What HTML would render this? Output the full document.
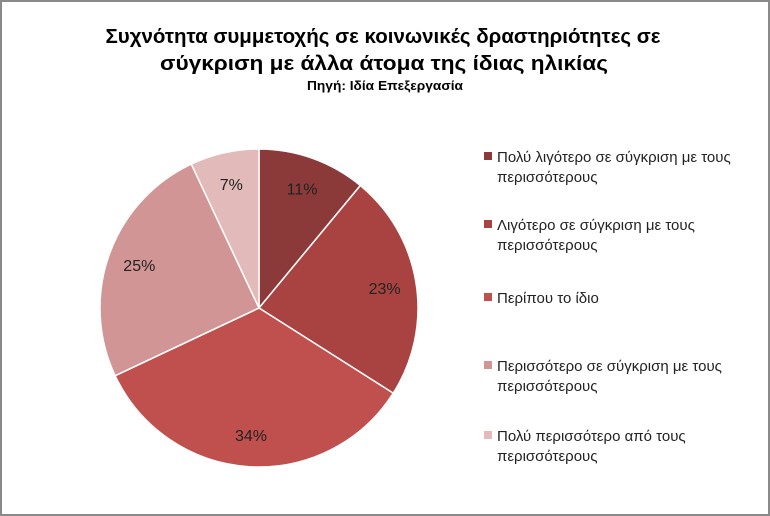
<!DOCTYPE html>
<html><head><meta charset="utf-8"><style>
html,body{margin:0;padding:0;background:#fff}
svg{display:block;font-family:"Liberation Sans Narrow","Liberation Sans",sans-serif}
</style></head><body>
<svg width="770" height="516" viewBox="0 0 770 516" id="c">
<rect x="1" y="1" width="768" height="514" fill="#fff" stroke="#8a8a8a" stroke-width="2"/>
<g font-weight="bold" text-anchor="middle" fill="#000">
<text x="383" y="43" font-size="20" textLength="555" lengthAdjust="spacingAndGlyphs">Συχνότητα συμμετοχής σε κοινωνικές δραστηριότητες σε</text>
<text x="384" y="70" font-size="20" textLength="448" lengthAdjust="spacingAndGlyphs">σύγκριση με άλλα άτομα της ίδιας ηλικίας</text>
<text x="385" y="90" font-size="13" textLength="156" lengthAdjust="spacingAndGlyphs">Πηγή: Ιδία Επεξεργασία</text>
</g>
<g id="pie"></g>
<g id="legend"></g>
</svg>
<script>
const categories=["Πολύ λιγότερο σε σύγκριση με τους περισσότερους","Λιγότερο σε σύγκριση με τους περισσότερους","Περίπου το ίδιο","Περισσότερο σε σύγκριση με τους περισσότερους","Πολύ περισσότερο από τους περισσότερους"];
const values=[11,23,34,25,7];
const valueLabels=["11%","23%","34%","25%","7%"];
const legendLines=[["Πολύ λιγότερο σε σύγκριση με τους","περισσότερους"],["Λιγότερο σε σύγκριση με τους","περισσότερους"],["Περίπου το ίδιο"],["Περισσότερο σε σύγκριση με τους","περισσότερους"],["Πολύ περισσότερο από τους","περισσότερους"]];
const colors=["#8c3a39","#a94341","#c0504d","#d09594","#e2baba"];
const NS="http://www.w3.org/2000/svg";
const cx=259,cy=308,r=159;
const pie=document.getElementById('pie');
const total=values.reduce((a,b)=>a+b,0);
let a0=-Math.PI/2;
function pt(a,rr){return [cx+rr*Math.cos(a),cy+rr*Math.sin(a)];}
values.forEach((v,i)=>{
  const a1=a0+v/total*2*Math.PI;
  const p0=pt(a0,r),p1=pt(a1,r);
  const large=(a1-a0)>Math.PI?1:0;
  const p=document.createElementNS(NS,'path');
  p.setAttribute('d',`M${cx},${cy}L${p0[0]},${p0[1]}A${r},${r} 0 ${large} 1 ${p1[0]},${p1[1]}Z`);
  p.setAttribute('fill',colors[i]);p.setAttribute('stroke','#fff');p.setAttribute('stroke-width','1.5');
  
  
  pie.appendChild(p);
  const m=(a0+a1)/2,lp=pt(m,r*0.8);
  const t=document.createElementNS(NS,'text');
  t.setAttribute('x',lp[0]);t.setAttribute('y',lp[1]+6);t.setAttribute('text-anchor','middle');
  t.setAttribute('font-size','16');t.setAttribute('fill','#222');t.textContent=valueLabels[i];
  
  
  pie.appendChild(t);
  a0=a1;
});
const leg=document.getElementById('legend');
const ys=[162,230,303,371,441];
legendLines.forEach((lines,i)=>{
  const g=document.createElementNS(NS,'g');
  
  
  const s=document.createElementNS(NS,'rect');
  s.setAttribute('x',484);s.setAttribute('y',ys[i]-10);s.setAttribute('width',8);s.setAttribute('height',8);s.setAttribute('fill',colors[i]);
  g.appendChild(s);
  lines.forEach((ln,j)=>{
    const t=document.createElementNS(NS,'text');
    t.setAttribute('x',497);t.setAttribute('y',ys[i]+j*20);t.setAttribute('font-size','15');t.setAttribute('fill','#222');
    t.textContent=ln;g.appendChild(t);
  });
  leg.appendChild(g);
});
</script>
</body></html>
